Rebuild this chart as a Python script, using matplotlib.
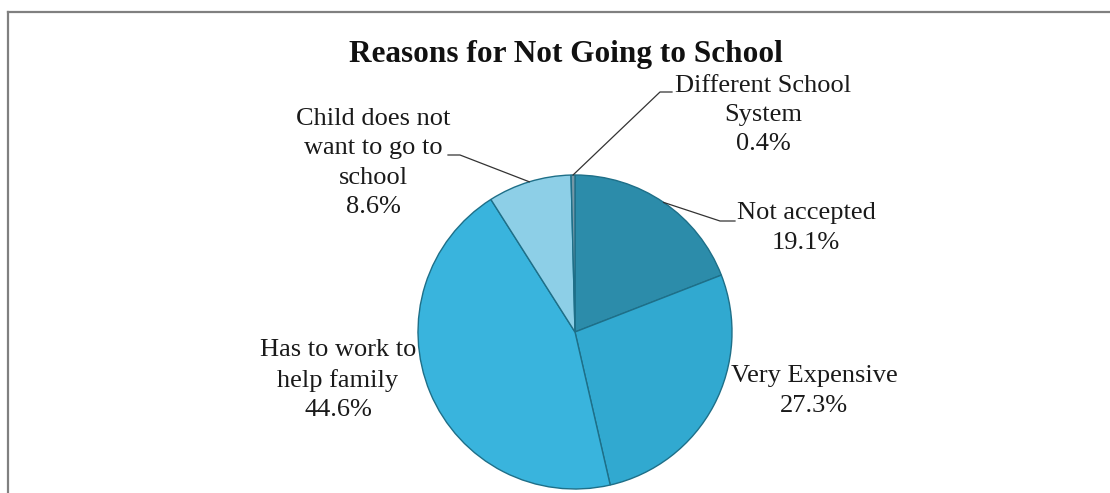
import matplotlib
matplotlib.use("Agg")
import matplotlib.pyplot as plt
from matplotlib.lines import Line2D
import numpy as np

plt.rcParams['font.family'] = ['Liberation Serif', 'DejaVu Serif']

categories = ['Not accepted', 'Very Expensive', 'Has to work to\nhelp family',
              'Child does not\nwant to go to\nschool', 'Different School\nSystem']
shares = [19.1, 27.3, 44.6, 8.6, 0.4]
colors = ['#2C8CAA', '#31A9D0', '#39B4DD', '#8DCFE7', '#7497A6']
title = 'Reasons for Not Going to School'

W, H = 1110, 493
CX, CY, R = 575, 332, 157   # pie centre / radius in pixels


def px(x, y):
    # pixel position (from top-left) -> pie data coords
    return (x - CX) / R, (CY - y) / R


fig = plt.figure(figsize=(W / 100, H / 100), dpi=100)
ax = fig.add_axes([(CX - R) / W, (H - CY - R) / H, 2 * R / W, 2 * R / H])
wedges, _ = ax.pie(shares, colors=colors, startangle=90, counterclock=False,
                   radius=1,
                   wedgeprops=dict(edgecolor='#1E6F88', linewidth=1.0))
ax.set_xlim(-1, 1)
ax.set_ylim(-1, 1)
ax.set_aspect('equal')
ax.axis('off')

# label positions (pixels) and optional leader kinks
label_pos = [(806, 228), (814, 391), (338, 380), (373, 163), (763, 115)]
leaders = {0: [(720, 221), (735, 221)],
           3: [(460, 155), (448, 155)],
           4: [(660, 92), (672, 92)]}

for i, w in enumerate(wedges):
    text = f'{categories[i]}\n{shares[i]:.1f}%'
    tx, ty = px(*label_pos[i])
    ax.text(tx, ty, text, ha='center', va='center', multialignment='center',
            fontsize=19, color='#1a1a1a', linespacing=1.42, clip_on=False)
    if i in leaders:
        ang = np.deg2rad((w.theta1 + w.theta2) / 2)
        pts = [(np.cos(ang), np.sin(ang))] + [px(*p) for p in leaders[i]]
        xs, ys = zip(*pts)
        ax.plot(xs, ys, color='#333333', linewidth=0.9, clip_on=False)

fig.text(566 / W, 1 - 62 / H, title, ha='center', va='baseline',
         fontsize=22.5, fontweight='bold', color='#111111')

# outer chart frame (runs past right/bottom edges)
fig.add_artist(Line2D([8 / W, 8 / W], [0, 1 - 12 / H], transform=fig.transFigure,
                      color='#808080', linewidth=1.6))
fig.add_artist(Line2D([8 / W, 1], [1 - 12 / H, 1 - 12 / H], transform=fig.transFigure,
                      color='#808080', linewidth=1.6))

fig.savefig('out.png', dpi=100)
